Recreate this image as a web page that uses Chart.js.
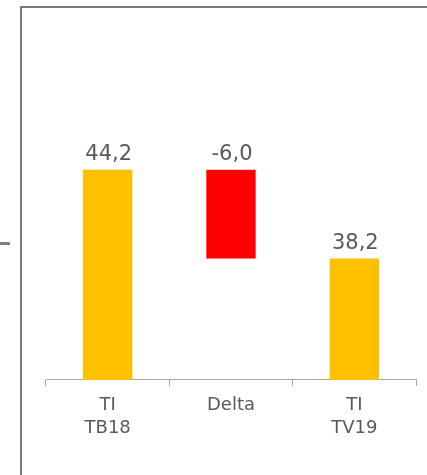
<!DOCTYPE html>
<html>
<head>
<meta charset="utf-8">
<script src="https://cdn.jsdelivr.net/npm/chart.js@4/dist/chart.umd.min.js"></script>
<style>
  html, body { margin: 0; padding: 0; background: #fff; overflow: hidden; }
  #wrap { position: relative; width: 427px; height: 475px; }
  #cadre { position: absolute; left: 20px; top: 6px; width: 500px; height: 600px;
           border-left: 2px solid #7a7a7a; border-top: 2px solid #7a7a7a; }
  #trait { position: absolute; left: 0; top: 242px; width: 10px; height: 3px; background: #808080; }
  canvas { position: absolute; left: 0; top: 0; }
</style>
</head>
<body>
<div id="wrap">
  <div id="cadre"></div>
  <div id="trait"></div>
  <canvas id="graficoPonte" width="427" height="475"></canvas>
</div>
<script>
// dados
const categorias = [['TI', 'TB18'], 'Delta', ['TI', 'TV19']];
const valores = [44.2, -6.0, 38.2];
const tipos = ['total', 'delta', 'total'];
const cores = ['#FFC000', '#FF0000', '#FFC000'];
const eixoMin = 30;
const eixoMax = 55;

// barras flutuantes tipo cascata
let acumulado = 0;
const barras = valores.map((v, i) => {
    if (tipos[i] === 'total') {
        acumulado = v;
        return [eixoMin, v];
    }
    const ini = acumulado;
    acumulado += v;
    return [Math.min(ini, acumulado), Math.max(ini, acumulado)];
});

const formatar = v => v.toFixed(1).replace('.', ',');

// rótulos em cima das barras
const rotulos = {
    id: 'rotulos',
    afterDatasetsDraw(chart) {
        const ctx = chart.ctx;
        const meta = chart.getDatasetMeta(0);
        ctx.save();
        ctx.font = '21px "DejaVu Sans", Verdana, sans-serif';
        ctx.fillStyle = '#595959';
        ctx.textAlign = 'center';
        ctx.textBaseline = 'alphabetic';
        meta.data.forEach((bar, i) => {
            const topo = Math.min(bar.y, bar.base);
            ctx.fillText(formatar(valores[i]), bar.x + 1, topo - 10);
        });
        ctx.restore();
    }
};

new Chart(document.getElementById('graficoPonte'), {
    type: 'bar',
    data: {
        labels: categorias,
        datasets: [{
            data: barras,
            backgroundColor: cores,
            borderWidth: 0,
            barPercentage: 0.4,
            categoryPercentage: 1.0
        }]
    },
    options: {
        responsive: false,
        animation: false,
        layout: { padding: { left: 46, right: 11, top: 10, bottom: 27 } },
        plugins: { legend: { display: false }, tooltip: { enabled: false } },
        scales: {
            x: {
                grid: { offset: true, drawOnChartArea: false, tickLength: 6, color: '#a6a6a6' },
                border: { color: '#a6a6a6', width: 1 },
                ticks: {
                    color: '#595959',
                    font: { family: '"DejaVu Sans", Verdana, sans-serif', size: 18, lineHeight: 1.28 },
                    padding: 8,
                    maxRotation: 0
                }
            },
            y: { display: false, min: eixoMin, max: eixoMax }
        }
    },
    plugins: [rotulos]
});
</script>
</body>
</html>
